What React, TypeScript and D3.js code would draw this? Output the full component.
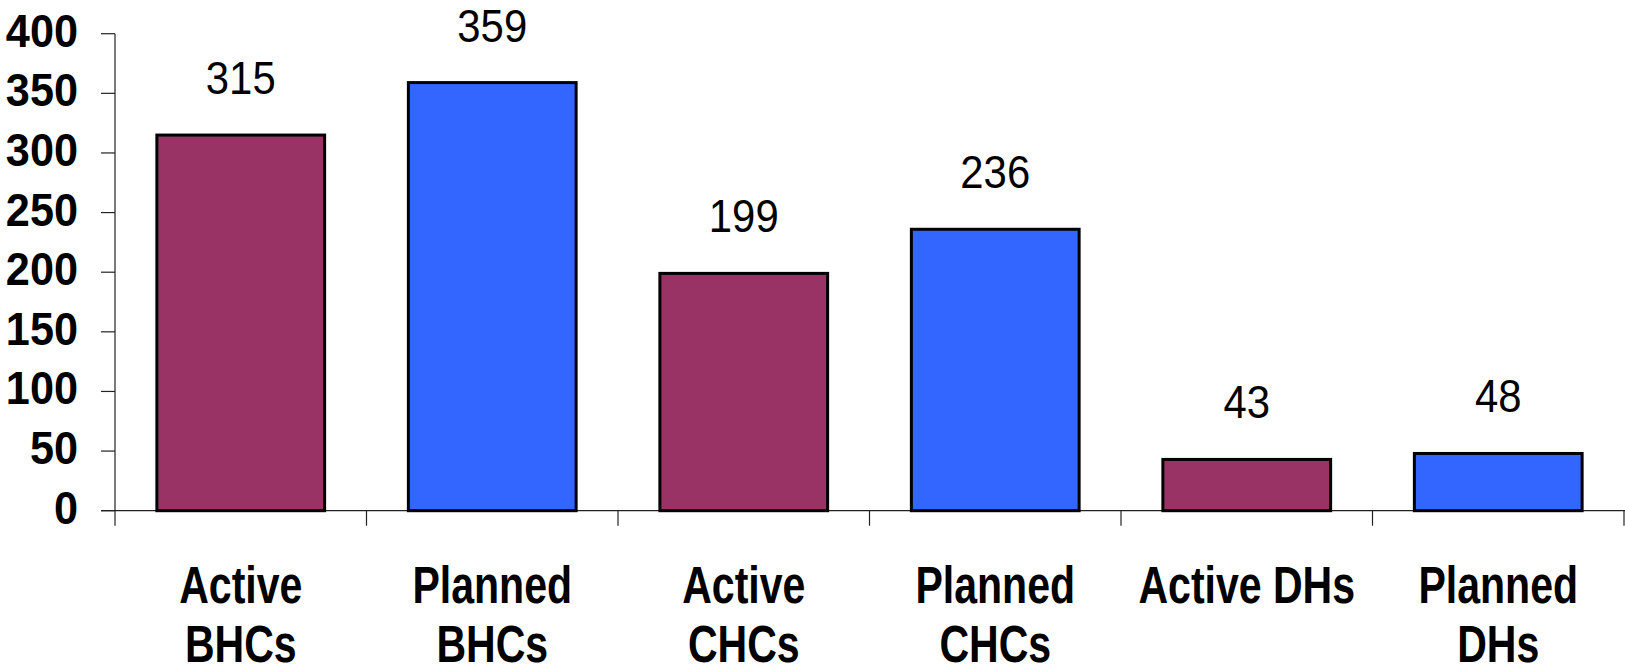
import React from "react";
import * as d3 from "d3";

const categories: string[][] = [
  ["Active", "BHCs"],
  ["Planned", "BHCs"],
  ["Active", "CHCs"],
  ["Planned", "CHCs"],
  ["Active DHs"],
  ["Planned", "DHs"],
];
const values: number[] = [315, 359, 199, 236, 43, 48];
const barColors: string[] = ["#993366", "#3366FF", "#993366", "#3366FF", "#993366", "#3366FF"];
const yTicks: number[] = [0, 50, 100, 150, 200, 250, 300, 350, 400];

const W = 1625;
const H = 672;
const left = 115;
const right = 1624;
const top = 33.7;
const bottom = 510.7;

export default function App() {
  React.useEffect(() => {
    document.body.style.margin = "0";
  }, []);
  const keys = categories.map((c) => c.join(" "));
  const x = d3
    .scaleBand<string>()
    .domain(keys)
    .range([left, right])
    .paddingInner(0.333)
    .paddingOuter(0.1665);
  const y = d3.scaleLinear().domain([0, 400]).range([bottom, top]);
  const step = x.step();
  const boundaries = d3.range(keys.length + 1).map((i) => left + i * step);

  return (
    <svg width={W} height={H} style={{ display: "block" }} fontFamily="'Liberation Sans', Arial, sans-serif">
      <rect x={0} y={0} width={W} height={H} fill="#fff" />
      {/* y axis */}
      <line x1={left} x2={left} y1={y(400)} y2={bottom} stroke="#222" strokeWidth={1.2} />
      {yTicks.map((t) => (
        <g key={t}>
          <line x1={left - 14} x2={left} y1={y(t)} y2={y(t)} stroke="#222" strokeWidth={1.2} />
          <g transform={`translate(78,${y(t) + 13}) scale(0.93,1)`}>
            <text x={0} y={0} textAnchor="end" fontWeight="bold" fontSize={46.5} fill="#000">
              {t}
            </text>
          </g>
        </g>
      ))}
      {/* x axis */}
      <line x1={left - 14} x2={W} y1={bottom} y2={bottom} stroke="#222" strokeWidth={1.2} />
      {boundaries.map((b, i) => (
        <line key={i} x1={b} x2={b} y1={bottom} y2={bottom + 15} stroke="#222" strokeWidth={1.2} />
      ))}
      {/* bars */}
      {keys.map((k, i) => (
        <rect
          key={k}
          x={x(k)}
          y={y(values[i])}
          width={x.bandwidth()}
          height={bottom - y(values[i])}
          fill={barColors[i]}
          stroke="#000"
          strokeWidth={3}
        />
      ))}
      {/* value labels */}
      {keys.map((k, i) => (
        <g key={k} transform={`translate(${(x(k) ?? 0) + x.bandwidth() / 2},${y(values[i]) - 41}) scale(0.9,1)`}>
          <text x={0} y={0} textAnchor="middle" fontSize={46.5} fill="#000">
            {values[i]}
          </text>
        </g>
      ))}
      {/* category labels */}
      {categories.map((lines, i) => (
        <g key={i} transform={`translate(${(x(keys[i]) ?? 0) + x.bandwidth() / 2},0)`}>
          {lines.map((ln, j) => (
            <g key={j} transform={`translate(0,${602.7 + j * 59}) scale(0.78,1)`}>
              <text x={0} y={0} textAnchor="middle" fontWeight="bold" fontSize={52.6} fill="#000">
                {ln}
              </text>
            </g>
          ))}
        </g>
      ))}
    </svg>
  );
}
